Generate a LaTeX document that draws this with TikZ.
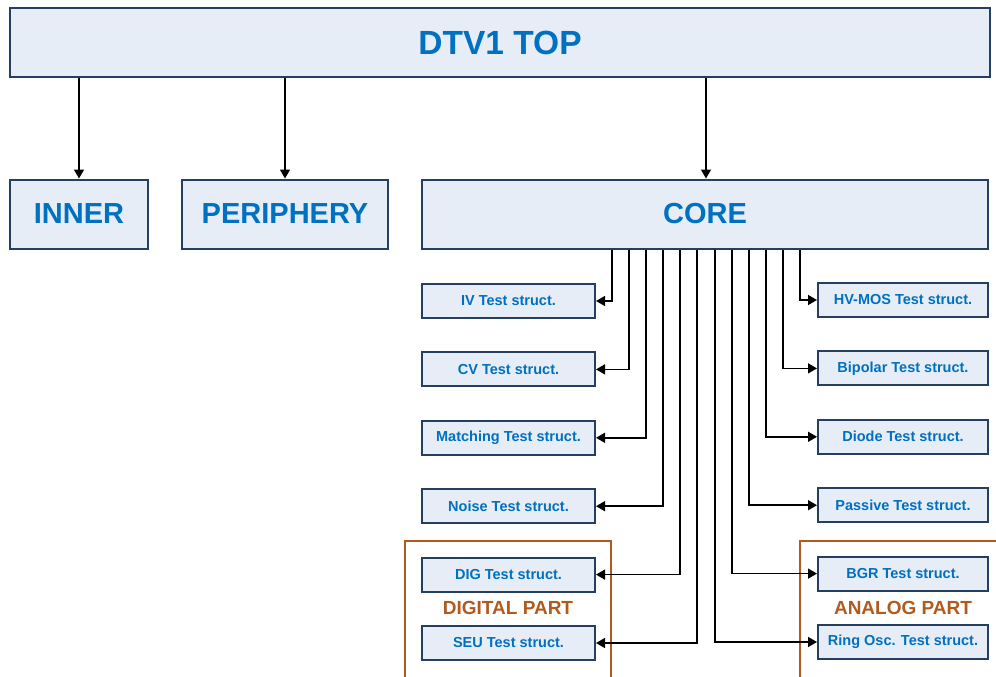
\documentclass[tikz,border=0pt]{standalone}
\usepackage{fontspec}
\setmainfont{Liberation Sans}
\usetikzlibrary{positioning,arrows.meta}
\definecolor{boxfill}{HTML}{E6EDF7}
\definecolor{boxline}{HTML}{243F60}
\definecolor{boxtext}{HTML}{0070C0}
\definecolor{partline}{HTML}{B05A1E}

\tikzset{
  block/.style={draw=boxline,fill=boxfill,line width=2pt,text=boxtext,inner sep=0pt},
  bigblock/.style={block,minimum height=69pt,font=\fontsize{29}{30}\selectfont\bfseries},
  testblock/.style={block,minimum height=34pt,font=\fontsize{14.5}{16}\selectfont\bfseries},
  part/.style={draw=partline,line width=1.5pt},
  partlabel/.style={text=partline,font=\fontsize{19}{20}\selectfont\bfseries},
}

\begin{document}
\begin{tikzpicture}[x=1pt,y=1pt,>={Triangle[length=9pt,width=10pt]},line width=1.5pt,node distance=68.4pt,on grid]
   \useasboundingbox (0,0) rectangle (996,-677);
   % digital / analog frames
   \draw[part] (405,-680) |- (611,-541) -- (611,-680);
   \draw[part] (800,-680) |- (1000,-541);
   \node[partlabel] (digital) at (508,-608) {DIGITAL PART};
   \node[partlabel] (analog) at (903,-608) {ANALOG PART};

   \node[bigblock,minimum width=980pt,font=\fontsize{33.5}{35}\selectfont\bfseries] (top) at (500,-42.5) {DTV1 TOP};
   \node[bigblock,minimum width=138pt] (inner) at (79,-214) {INNER};
   \node[bigblock,minimum width=206pt] (periphery) at (285,-214) {PERIPHERY};
   \node[bigblock,minimum width=566pt] (core) at (705,-214) {CORE};

   \node[testblock,minimum width=173pt] (iv) at (508.5,-301) {IV Test struct.};
   \node[testblock,minimum width=173pt] (cv) [below=of iv] {CV Test struct.};
   \node[testblock,minimum width=173pt] (matching) [below=of cv] {Matching Test struct.};
   \node[testblock,minimum width=173pt] (noise) [below=of matching] {Noise Test struct.};
   \node[testblock,minimum width=173pt] (dig) [below=of noise] {DIG Test struct.};
   \node[testblock,minimum width=173pt] (seu) [below=of dig] {SEU Test struct.};

   \node[testblock,minimum width=170pt] (hvmos) at (903,-300) {HV-MOS Test struct.};
   \node[testblock,minimum width=170pt] (bipolar) [below=of hvmos] {Bipolar Test struct.};
   \node[testblock,minimum width=170pt] (diode) [below=of bipolar] {Diode Test struct.};
   \node[testblock,minimum width=170pt] (passive) [below=of diode] {Passive Test struct.};
   \node[testblock,minimum width=170pt] (bgr) [below=of passive] {BGR Test struct.};
   \node[testblock,minimum width=170pt] (ringosc) [below=of bgr] {Ring Osc. Test struct.};

   \draw[->] (top.south -| inner.north) -- (inner.north);
   \draw[->] (top.south -| periphery.north) -- (periphery.north);
   \draw[->] ([xshift=1pt]top.south -| core.north) -- ([xshift=1pt]core.north);

   \foreach \blk/\dx in {iv/-93,cv/-76,matching/-59,noise/-42,dig/-25,seu/-8,
                         ringosc/10,bgr/27,passive/44,diode/61,bipolar/78,hvmos/95}
      \draw[->] ([xshift=\dx pt]core.south) |- (\blk);
\end{tikzpicture}
\end{document}
